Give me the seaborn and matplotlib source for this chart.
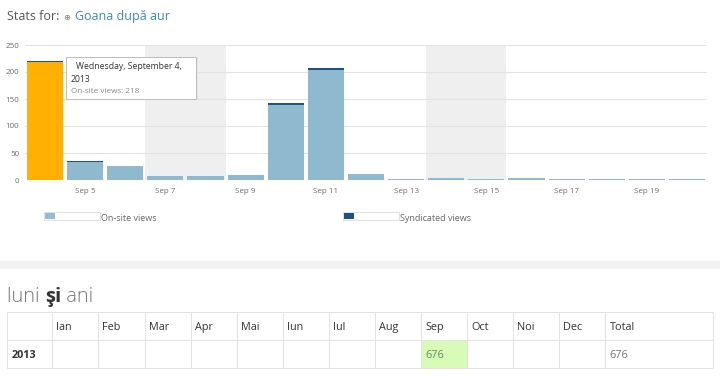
import pandas as pd
import seaborn as sns
import matplotlib.pyplot as plt
from matplotlib.patches import Patch, Rectangle

# daily views, Sep 4 .. Sep 20
days = ['Sep 4', 'Sep 5', 'Sep 6', 'Sep 7', 'Sep 8', 'Sep 9', 'Sep 10', 'Sep 11', 'Sep 12',
        'Sep 13', 'Sep 14', 'Sep 15', 'Sep 16', 'Sep 17', 'Sep 18', 'Sep 19', 'Sep 20']
onsite = [218, 33, 26, 7, 7, 9, 138, 204, 12, 1.5, 3, 2.5, 4, 1, 1, 2, 1]
syndicated = [3, 3, 0, 0, 0, 0, 4, 3, 0, 0, 0, 0, 0, 1, 0, 0, 0]
weekend_days = [('Sep 7', 'Sep 8'), ('Sep 14', 'Sep 15')]
highlight_day = 'Sep 4'
y_ticks = [0, 50, 100, 150, 200, 250]

# months table
months = ['Ian', 'Feb', 'Mar', 'Apr', 'Mai', 'Iun', 'Iul', 'Aug', 'Sep', 'Oct', 'Noi', 'Dec']
year = '2013'
month_views = [None, None, None, None, None, None, None, None, 676, None, None, None]
year_total = 676

ONSITE = '#8fb9cf'
SYND = '#1d5283'
ORANGE = '#ffb000'
W, H = 720, 376


def fx(px):
    return px / W


def fy(py):
    return 1 - py / H


class BoxHandler:
    def legend_artist(self, legend, orig_handle, fontsize, handlebox):
        x0, y0 = handlebox.xdescent, handlebox.ydescent
        w, h = handlebox.width, handlebox.height
        tr = handlebox.get_transform()
        frame = Rectangle((x0, y0), w, h, facecolor='white', edgecolor='#dcdcdc', lw=0.6, transform=tr)
        swatch = Rectangle((x0 + 0.6, y0 + 0.6), 7.5, h - 1.2,
                           facecolor=orig_handle.get_facecolor(), lw=0, transform=tr)
        handlebox.add_artist(frame)
        handlebox.add_artist(swatch)
        return frame


df = pd.DataFrame({'day': days, 'onsite': onsite, 'syndicated': syndicated})
df['total'] = df['onsite'] + df['syndicated']

sns.set_style('white')
plt.rcParams['font.family'] = ['Open Sans', 'DejaVu Sans']

fig = plt.figure(figsize=(W / 100, H / 100), dpi=100)
ax = fig.add_axes([fx(25), fy(180), fx(707) - fx(25), fy(45) - fy(180)])

sns.barplot(data=df, x='day', y='total', color=SYND, saturation=1, width=0.9, ax=ax,
            zorder=2, linewidth=0)
sns.barplot(data=df, x='day', y='onsite', color=ONSITE, saturation=1, width=0.9, ax=ax,
            zorder=3, linewidth=0)
ax.containers[1][days.index(highlight_day)].set_facecolor(ORANGE)

for d0, d1 in weekend_days:
    ax.axvspan(days.index(d0) - 0.5, days.index(d1) + 0.5, color='#efefef', lw=0, zorder=0)

ax.set_xlim(-0.5, len(days) - 0.5)
ax.set_ylim(0, 250)
ax.set_axisbelow(True)
ax.set_yticks(y_ticks)
ax.set_xticks(range(1, len(days), 2))
ax.set_xticklabels(days[1::2])
ax.yaxis.grid(True, color='#e3e3e3', lw=0.8)
ax.tick_params(axis='both', length=0, labelsize=5.8, labelcolor='#6a6a6a')
ax.tick_params(axis='y', pad=4)
ax.tick_params(axis='x', pad=6)
ax.set_xlabel('')
ax.set_ylabel('')
sns.despine(ax=ax, left=True, bottom=True)

# legend
for label, color, x0 in [('On-site views', '#94bdd3', 44), ('Syndicated views', SYND, 343)]:
    fig.legend(handles=[Patch(facecolor=color, label=label)],
               handler_map={Patch: BoxHandler()}, loc='center left',
               bbox_to_anchor=(fx(x0), fy(218.5)), frameon=False, fontsize=6.5,
               handlelength=6.2, handleheight=1.0, handletextpad=0.1,
               borderpad=0, borderaxespad=0, labelcolor='#666666')

# overlay in pixel coordinates
ov = fig.add_axes([0, 0, 1, 1])
ov.set_xlim(0, W)
ov.set_ylim(H, 0)
ov.axis('off')

t1 = ov.text(7, 20, 'Stats for:', fontsize=9, color='#555555', va='baseline')
t2 = ov.annotate('\u2295', xy=(1, 0), xycoords=t1, xytext=(3, 1), textcoords='offset points',
                 fontsize=6, color='#777777', va='bottom', family=['DejaVu Sans'])
ov.annotate('Goana după aur', xy=(1, 0), xycoords=t2, xytext=(3, -1), textcoords='offset points',
            fontsize=9, color='#3a88ba', va='bottom')

# tooltip
ov.add_patch(Rectangle((67, 58), 131, 42, facecolor='#e4e4e4', lw=0, zorder=4))
ov.add_patch(Rectangle((66, 57), 130, 41.5, facecolor='white', edgecolor='#bdbdbd', lw=0.7, zorder=5))
ov.text(76, 66.5, 'Wednesday, September 4,', fontsize=6.2, color='#333333', va='center', zorder=6)
ov.text(71, 79, year, fontsize=6.2, color='#333333', va='center', zorder=6)
ov.text(71, 91.5, 'On-site views: %d' % onsite[days.index(highlight_day)], fontsize=5.9,
        color='#888888', va='center', zorder=6)

# separator band
ov.add_patch(Rectangle((0, 261), W, 8, facecolor='#f2f2f2', lw=0))

h1 = ov.text(7, 302, 'luni ', fontsize=14.5, color='#777777', fontweight='light', va='baseline')
h2 = ov.annotate('şi', xy=(1, 0), xycoords=h1, textcoords='offset points', xytext=(0, 0),
                 fontsize=14.5, color='#333333', fontweight='bold', va='bottom')
ov.annotate(' ani', xy=(1, 0), xycoords=h2, textcoords='offset points', xytext=(0, 0),
            fontsize=14.5, color='#777777', fontweight='light', va='bottom')

# table
col_px = [45, 46, 47, 46, 46, 46, 46, 46, 46, 46, 46, 46, 46, 108]
tab_ax = fig.add_axes([fx(7), fy(368), fx(713) - fx(7), fy(312) - fy(368)])
tab_ax.axis('off')
header = [''] + months + ['Total']
row = [year] + ['' if v is None else str(v) for v in month_views] + [str(year_total)]
tbl = tab_ax.table(cellText=[header, row], colWidths=[c / sum(col_px) for c in col_px],
                   cellLoc='left', bbox=[0, 0, 1, 1])
tbl.auto_set_font_size(False)
for (r, c), cell in tbl.get_celld().items():
    cell.set_edgecolor('#e2e2e2')
    cell.set_linewidth(0.7)
    cell.PAD = 4.5 / col_px[c]
    txt = cell.get_text()
    txt.set_fontsize(7.8)
    txt.set_va('center_baseline')
    txt.set_color('#333333')
    if r == 1 and c == 0:
        txt.set_fontweight('bold')
    if r == 1 and 1 <= c <= 12 and month_views[c - 1] is not None:
        cell.set_facecolor('#d8fbb8')
        txt.set_color('#5f8a5f')
    if r == 1 and c == 13:
        txt.set_color('#707070')

fig.savefig('out.png', dpi=100)
